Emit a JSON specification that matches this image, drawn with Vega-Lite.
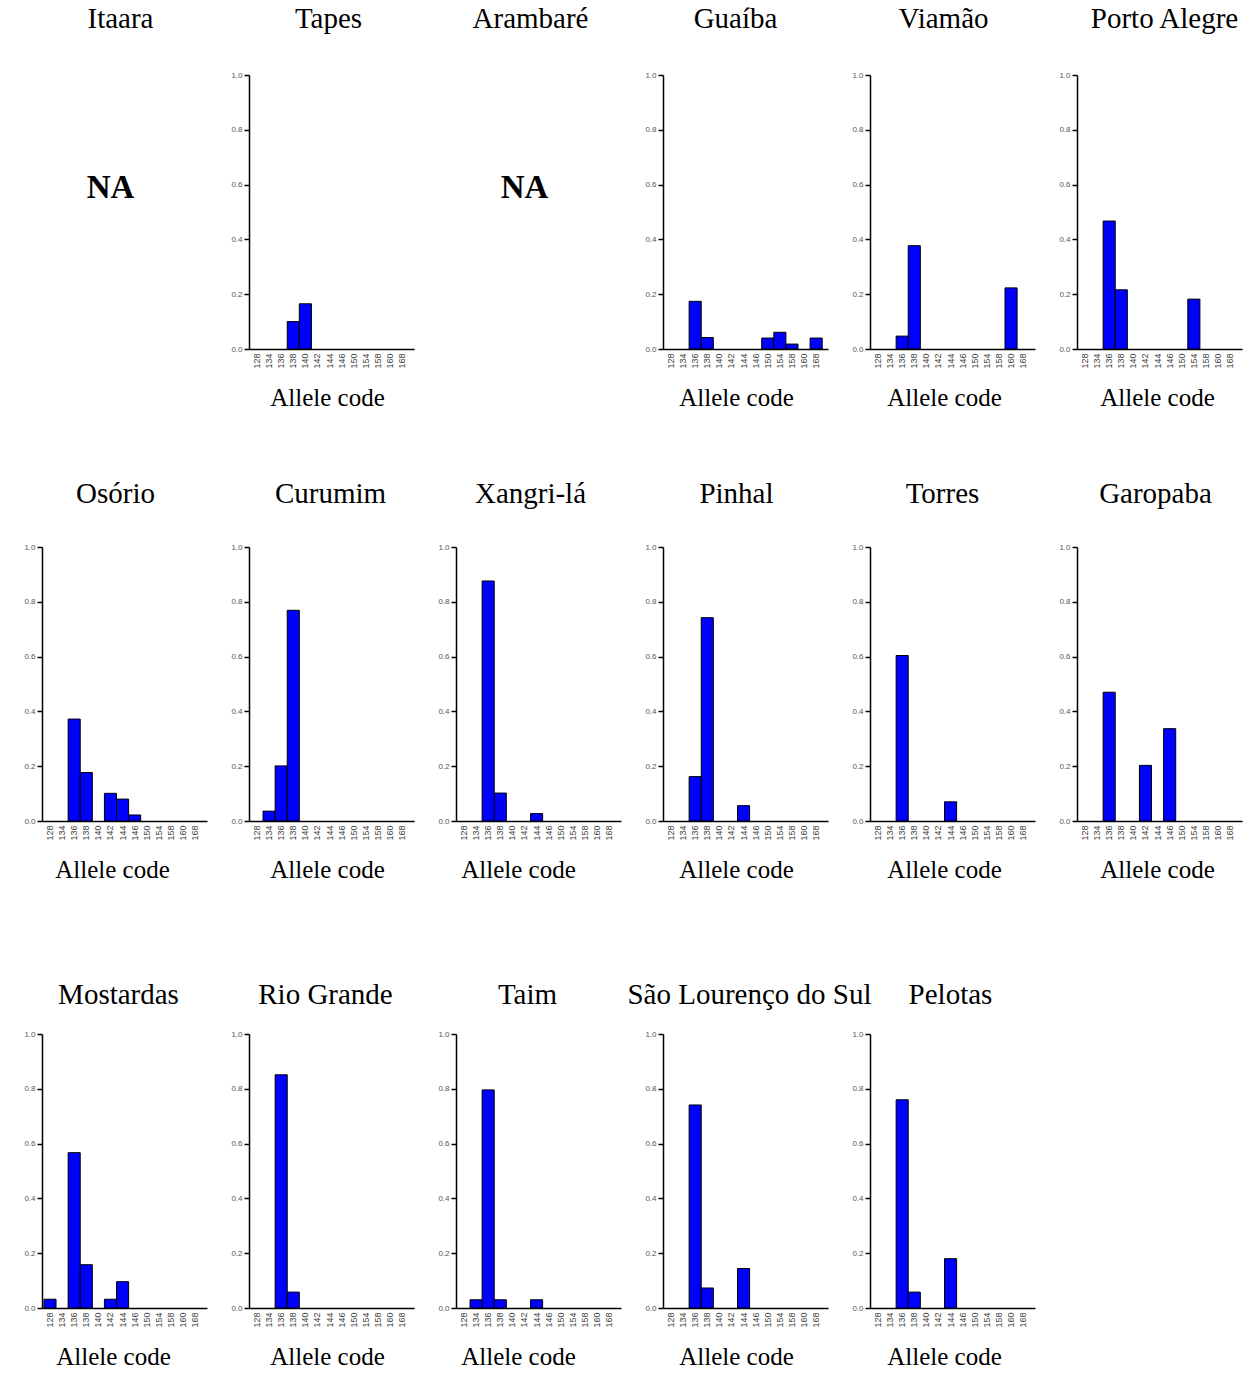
{
  "$schema": "https://vega.github.io/schema/vega-lite/v6.json",
  "background": "white",
  "padding": {"left": 22, "top": 5, "right": 5, "bottom": 5},
  "datasets": {
    "freq": [
      {"pop": "Tapes", "allele": 138, "freq": 0.100},
      {"pop": "Tapes", "allele": 140, "freq": 0.165},
      {"pop": "Guaíba", "allele": 136, "freq": 0.174},
      {"pop": "Guaíba", "allele": 138, "freq": 0.042},
      {"pop": "Guaíba", "allele": 150, "freq": 0.040},
      {"pop": "Guaíba", "allele": 154, "freq": 0.061},
      {"pop": "Guaíba", "allele": 158, "freq": 0.018},
      {"pop": "Guaíba", "allele": 168, "freq": 0.040},
      {"pop": "Viamão", "allele": 136, "freq": 0.047},
      {"pop": "Viamão", "allele": 138, "freq": 0.377},
      {"pop": "Viamão", "allele": 160, "freq": 0.223},
      {"pop": "Porto Alegre", "allele": 136, "freq": 0.467},
      {"pop": "Porto Alegre", "allele": 138, "freq": 0.216},
      {"pop": "Porto Alegre", "allele": 154, "freq": 0.182},
      {"pop": "Osório", "allele": 136, "freq": 0.372},
      {"pop": "Osório", "allele": 138, "freq": 0.177},
      {"pop": "Osório", "allele": 142, "freq": 0.101},
      {"pop": "Osório", "allele": 144, "freq": 0.080},
      {"pop": "Osório", "allele": 146, "freq": 0.022},
      {"pop": "Curumim", "allele": 134, "freq": 0.036},
      {"pop": "Curumim", "allele": 136, "freq": 0.201},
      {"pop": "Curumim", "allele": 138, "freq": 0.769},
      {"pop": "Xangri-lá", "allele": 136, "freq": 0.876},
      {"pop": "Xangri-lá", "allele": 138, "freq": 0.102},
      {"pop": "Xangri-lá", "allele": 144, "freq": 0.027},
      {"pop": "Pinhal", "allele": 136, "freq": 0.162},
      {"pop": "Pinhal", "allele": 138, "freq": 0.742},
      {"pop": "Pinhal", "allele": 144, "freq": 0.056},
      {"pop": "Torres", "allele": 136, "freq": 0.604},
      {"pop": "Torres", "allele": 144, "freq": 0.070},
      {"pop": "Garopaba", "allele": 136, "freq": 0.470},
      {"pop": "Garopaba", "allele": 142, "freq": 0.203},
      {"pop": "Garopaba", "allele": 146, "freq": 0.337},
      {"pop": "Mostardas", "allele": 128, "freq": 0.032},
      {"pop": "Mostardas", "allele": 136, "freq": 0.567},
      {"pop": "Mostardas", "allele": 138, "freq": 0.158},
      {"pop": "Mostardas", "allele": 142, "freq": 0.032},
      {"pop": "Mostardas", "allele": 144, "freq": 0.096},
      {"pop": "Rio Grande", "allele": 136, "freq": 0.851},
      {"pop": "Rio Grande", "allele": 138, "freq": 0.058},
      {"pop": "Taim", "allele": 134, "freq": 0.030},
      {"pop": "Taim", "allele": 136, "freq": 0.796},
      {"pop": "Taim", "allele": 138, "freq": 0.030},
      {"pop": "Taim", "allele": 144, "freq": 0.030},
      {"pop": "São Lourenço do Sul", "allele": 136, "freq": 0.741},
      {"pop": "São Lourenço do Sul", "allele": 138, "freq": 0.073},
      {"pop": "São Lourenço do Sul", "allele": 144, "freq": 0.144},
      {"pop": "Pelotas", "allele": 136, "freq": 0.760},
      {"pop": "Pelotas", "allele": 138, "freq": 0.058},
      {"pop": "Pelotas", "allele": 144, "freq": 0.180}
    ],
    "na": [
      {"pop": "Itaara", "note": "NA"},
      {"pop": "Arambaré", "note": "NA"}
    ]
  },
  "config": {
    "view": {"stroke": null},
    "font": "Liberation Serif",
    "title": {"font": "Liberation Serif", "fontSize": 29, "fontWeight": "normal", "color": "#000", "anchor": "middle", "baseline": "alphabetic"},
    "axisX": {
      "titleFont": "Liberation Serif", "titleFontSize": 25, "titleFontWeight": "normal", "titleColor": "#000", "titlePadding": 17,
      "labelAngle": -90, "labelFont": "Liberation Sans", "labelFontSize": 9, "labelColor": "#444", "labelPadding": 4,
      "ticks": false, "domainColor": "#000", "domainWidth": 1.5, "grid": false
    },
    "axisY": {
      "values": [0, 0.2, 0.4, 0.6, 0.8, 1.0], "format": ".1f",
      "labelFont": "Liberation Sans", "labelFontSize": 8, "labelColor": "#555", "labelPadding": 2,
      "tickSize": 5, "tickColor": "#000", "tickWidth": 1.5, "domainColor": "#000", "domainWidth": 1.5,
      "grid": false, "minExtent": 20, "maxExtent": 20
    },
    "bar": {"fill": "#0000ff", "stroke": "#000", "strokeWidth": 1}
  },
  "spacing": 98,
  "vconcat": [
    {
      "columns": 6,
      "bounds": "flush",
      "spacing": {"row": 198, "column": 42},
      "concat": [
        {"title": {"text": "Itaara", "offset": 41, "dx": -4}, "width": 165, "height": 274, "data": {"name": "na"}, "transform": [{"filter": {"field": "pop", "equal": "Itaara"}}],
          "mark": {"type": "text", "font": "Liberation Serif", "fontSize": 33, "fontWeight": "bold", "dx": -14, "dy": -24, "color": "#000"},
          "encoding": {"text": {"field": "note"}}},
        {"title": {"text": "Tapes", "offset": 37, "dx": -3}, "width": 165, "height": 274, "data": {"name": "freq"}, "transform": [{"filter": {"field": "pop", "equal": "Tapes"}}],
          "mark": "bar",
          "encoding": {"x": {"field": "allele", "type": "ordinal", "title": "Allele code", "axis": {"titleX": 78}, "scale": {"domain": [128,134,136,138,140,142,144,146,150,154,158,160,168], "paddingInner": 0, "paddingOuter": 0.32, "align": 0.25}}, "y": {"field": "freq", "type": "quantitative", "title": null, "scale": {"domain": [0, 1]}}}},
        {"title": {"text": "Arambaré", "offset": 41, "dx": -8}, "width": 165, "height": 274, "data": {"name": "na"}, "transform": [{"filter": {"field": "pop", "equal": "Arambaré"}}],
          "mark": {"type": "text", "font": "Liberation Serif", "fontSize": 33, "fontWeight": "bold", "dx": -14, "dy": -24, "color": "#000"},
          "encoding": {"text": {"field": "note"}}},
        {"title": {"text": "Guaíba", "offset": 37, "dx": -10}, "width": 165, "height": 274, "data": {"name": "freq"}, "transform": [{"filter": {"field": "pop", "equal": "Guaíba"}}],
          "mark": "bar",
          "encoding": {"x": {"field": "allele", "type": "ordinal", "title": "Allele code", "axis": {"titleX": 73}, "scale": {"domain": [128,134,136,138,140,142,144,146,150,154,158,160,168], "paddingInner": 0, "paddingOuter": 0.32, "align": 0.25}}, "y": {"field": "freq", "type": "quantitative", "title": null, "scale": {"domain": [0, 1]}}}},
        {"title": {"text": "Viamão", "offset": 37, "dx": -9}, "width": 165, "height": 274, "data": {"name": "freq"}, "transform": [{"filter": {"field": "pop", "equal": "Viamão"}}],
          "mark": "bar",
          "encoding": {"x": {"field": "allele", "type": "ordinal", "title": "Allele code", "axis": {"titleX": 74}, "scale": {"domain": [128,134,136,138,140,142,144,146,150,154,158,160,168], "paddingInner": 0, "paddingOuter": 0.32, "align": 0.25}}, "y": {"field": "freq", "type": "quantitative", "title": null, "scale": {"domain": [0, 1]}}}},
        {"title": {"text": "Porto Alegre", "offset": 37, "dx": 5}, "width": 165, "height": 274, "data": {"name": "freq"}, "transform": [{"filter": {"field": "pop", "equal": "Porto Alegre"}}],
          "mark": "bar",
          "encoding": {"x": {"field": "allele", "type": "ordinal", "title": "Allele code", "axis": {"titleX": 80}, "scale": {"domain": [128,134,136,138,140,142,144,146,150,154,158,160,168], "paddingInner": 0, "paddingOuter": 0.32, "align": 0.25}}, "y": {"field": "freq", "type": "quantitative", "title": null, "scale": {"domain": [0, 1]}}}},
        {"title": {"text": "Osório", "offset": 34, "dx": -9}, "width": 165, "height": 274, "data": {"name": "freq"}, "transform": [{"filter": {"field": "pop", "equal": "Osório"}}],
          "mark": "bar",
          "encoding": {"x": {"field": "allele", "type": "ordinal", "title": "Allele code", "axis": {"titleX": 70}, "scale": {"domain": [128,134,136,138,140,142,144,146,150,154,158,160,168], "paddingInner": 0, "paddingOuter": 0.32, "align": 0.25}}, "y": {"field": "freq", "type": "quantitative", "title": null, "scale": {"domain": [0, 1]}}}},
        {"title": {"text": "Curumim", "offset": 34, "dx": -1}, "width": 165, "height": 274, "data": {"name": "freq"}, "transform": [{"filter": {"field": "pop", "equal": "Curumim"}}],
          "mark": "bar",
          "encoding": {"x": {"field": "allele", "type": "ordinal", "title": "Allele code", "axis": {"titleX": 78}, "scale": {"domain": [128,134,136,138,140,142,144,146,150,154,158,160,168], "paddingInner": 0, "paddingOuter": 0.32, "align": 0.25}}, "y": {"field": "freq", "type": "quantitative", "title": null, "scale": {"domain": [0, 1]}}}},
        {"title": {"text": "Xangri-lá", "offset": 34, "dx": -8}, "width": 165, "height": 274, "data": {"name": "freq"}, "transform": [{"filter": {"field": "pop", "equal": "Xangri-lá"}}],
          "mark": "bar",
          "encoding": {"x": {"field": "allele", "type": "ordinal", "title": "Allele code", "axis": {"titleX": 62}, "scale": {"domain": [128,134,136,138,140,142,144,146,150,154,158,160,168], "paddingInner": 0, "paddingOuter": 0.32, "align": 0.25}}, "y": {"field": "freq", "type": "quantitative", "title": null, "scale": {"domain": [0, 1]}}}},
        {"title": {"text": "Pinhal", "offset": 34, "dx": -9}, "width": 165, "height": 274, "data": {"name": "freq"}, "transform": [{"filter": {"field": "pop", "equal": "Pinhal"}}],
          "mark": "bar",
          "encoding": {"x": {"field": "allele", "type": "ordinal", "title": "Allele code", "axis": {"titleX": 73}, "scale": {"domain": [128,134,136,138,140,142,144,146,150,154,158,160,168], "paddingInner": 0, "paddingOuter": 0.32, "align": 0.25}}, "y": {"field": "freq", "type": "quantitative", "title": null, "scale": {"domain": [0, 1]}}}},
        {"title": {"text": "Torres", "offset": 34, "dx": -10}, "width": 165, "height": 274, "data": {"name": "freq"}, "transform": [{"filter": {"field": "pop", "equal": "Torres"}}],
          "mark": "bar",
          "encoding": {"x": {"field": "allele", "type": "ordinal", "title": "Allele code", "axis": {"titleX": 74}, "scale": {"domain": [128,134,136,138,140,142,144,146,150,154,158,160,168], "paddingInner": 0, "paddingOuter": 0.32, "align": 0.25}}, "y": {"field": "freq", "type": "quantitative", "title": null, "scale": {"domain": [0, 1]}}}},
        {"title": {"text": "Garopaba", "offset": 34, "dx": -4}, "width": 165, "height": 274, "data": {"name": "freq"}, "transform": [{"filter": {"field": "pop", "equal": "Garopaba"}}],
          "mark": "bar",
          "encoding": {"x": {"field": "allele", "type": "ordinal", "title": "Allele code", "axis": {"titleX": 80}, "scale": {"domain": [128,134,136,138,140,142,144,146,150,154,158,160,168], "paddingInner": 0, "paddingOuter": 0.32, "align": 0.25}}, "y": {"field": "freq", "type": "quantitative", "title": null, "scale": {"domain": [0, 1]}}}}
      ]
    },
    {
      "bounds": "flush",
      "spacing": 42,
      "hconcat": [
        {"title": {"text": "Mostardas", "offset": 20, "dx": -6}, "width": 165, "height": 274, "data": {"name": "freq"}, "transform": [{"filter": {"field": "pop", "equal": "Mostardas"}}],
          "mark": "bar",
          "encoding": {"x": {"field": "allele", "type": "ordinal", "title": "Allele code", "axis": {"titleX": 71}, "scale": {"domain": [128,134,136,138,140,142,144,146,150,154,158,160,168], "paddingInner": 0, "paddingOuter": 0.32, "align": 0.25}}, "y": {"field": "freq", "type": "quantitative", "title": null, "scale": {"domain": [0, 1]}}}},
        {"title": {"text": "Rio Grande", "offset": 20, "dx": -6}, "width": 165, "height": 274, "data": {"name": "freq"}, "transform": [{"filter": {"field": "pop", "equal": "Rio Grande"}}],
          "mark": "bar",
          "encoding": {"x": {"field": "allele", "type": "ordinal", "title": "Allele code", "axis": {"titleX": 78}, "scale": {"domain": [128,134,136,138,140,142,144,146,150,154,158,160,168], "paddingInner": 0, "paddingOuter": 0.32, "align": 0.25}}, "y": {"field": "freq", "type": "quantitative", "title": null, "scale": {"domain": [0, 1]}}}},
        {"title": {"text": "Taim", "offset": 20, "dx": -11}, "width": 165, "height": 274, "data": {"name": "freq"}, "transform": [{"filter": {"field": "pop", "equal": "Taim"}}],
          "mark": "bar",
          "encoding": {"x": {"field": "allele", "type": "ordinal", "title": "Allele code", "axis": {"titleX": 62}, "scale": {"domain": [128,134,136,138,140,142,144,146,150,154,158,160,168], "paddingInner": 0, "paddingOuter": 0.32, "align": 0.25}}, "y": {"field": "freq", "type": "quantitative", "title": null, "scale": {"domain": [0, 1]}}}},
        {"title": {"text": "São Lourenço do Sul", "offset": 20, "dx": 4}, "width": 165, "height": 274, "data": {"name": "freq"}, "transform": [{"filter": {"field": "pop", "equal": "São Lourenço do Sul"}}],
          "mark": "bar",
          "encoding": {"x": {"field": "allele", "type": "ordinal", "title": "Allele code", "axis": {"titleX": 73}, "scale": {"domain": [128,134,136,138,140,142,144,146,150,154,158,160,168], "paddingInner": 0, "paddingOuter": 0.32, "align": 0.25}}, "y": {"field": "freq", "type": "quantitative", "title": null, "scale": {"domain": [0, 1]}}}},
        {"title": {"text": "Pelotas", "offset": 20, "dx": -2}, "width": 165, "height": 274, "data": {"name": "freq"}, "transform": [{"filter": {"field": "pop", "equal": "Pelotas"}}],
          "mark": "bar",
          "encoding": {"x": {"field": "allele", "type": "ordinal", "title": "Allele code", "axis": {"titleX": 74}, "scale": {"domain": [128,134,136,138,140,142,144,146,150,154,158,160,168], "paddingInner": 0, "paddingOuter": 0.32, "align": 0.25}}, "y": {"field": "freq", "type": "quantitative", "title": null, "scale": {"domain": [0, 1]}}}}
      ]
    }
  ]
}
